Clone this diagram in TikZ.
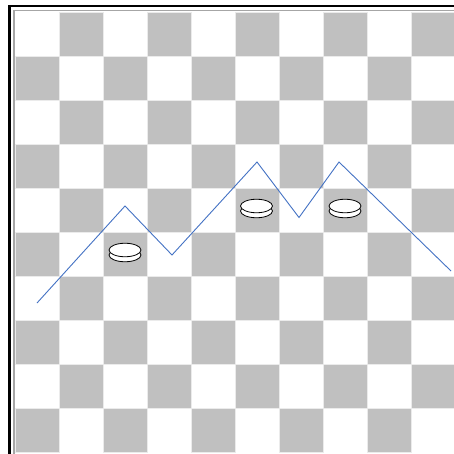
\documentclass[tikz,border=0pt]{standalone}
\usepackage{tikz}
\usetikzlibrary{shapes.geometric}
\definecolor{sqgray}{RGB}{192,192,192}
\definecolor{pathblue}{RGB}{68,114,196}

\begin{document}
\begin{tikzpicture}[x=1pt,y=-1pt,
  square/.style={fill=sqgray,draw=black!8,line width=0.5pt},
  disc/.style={ellipse,draw,fill=white,line width=0.8pt,minimum width=32pt,
               minimum height=13.5pt,inner sep=0pt},
  route/.style={pathblue,line width=0.9pt,line join=miter}]
  \useasboundingbox (0,0) rectangle (454,454);
  \fill[white] (0,0) rectangle (454,454);
  % board
  \foreach \c in {0,...,9}
    \foreach \r in {0,...,9} {
      \pgfmathtruncatemacro{\parity}{mod(\c+\r,2)}
      \ifnum\parity=1
        \filldraw[square] (15.5+44*\c,12+44*\r) rectangle ++(44,44);
      \fi
    }
  % frame
  \draw[black!35,line width=1.5pt] (14,460) -- (14,10.5) -- (460,10.5);
  \draw[black,line width=2.6pt] (9.5,460) -- (9.5,6) -- (460,6);
  % pieces
  \node[disc] (p1b) at (125,255) {};
  \node[disc] (p1) at (125,250) {};
  \node[disc] (p2b) at (256.5,211) {};
  \node[disc] (p2) at (256.5,206) {};
  \node[disc] (p3b) at (345,211) {};
  \node[disc] (p3) at (345,206) {};
  % route
  \coordinate (s) at (37,303);
  \coordinate (a) at (125,206);
  \coordinate (b) at (172,255);
  \coordinate (c) at (257,162);
  \coordinate (d) at (299,217.5);
  \coordinate (e) at (339,162);
  \coordinate (f) at (451,271);
  \draw[route] (s) -- (a) -- (b) -- (c) -- (d) -- (e) -- (f);
\end{tikzpicture}
\end{document}
